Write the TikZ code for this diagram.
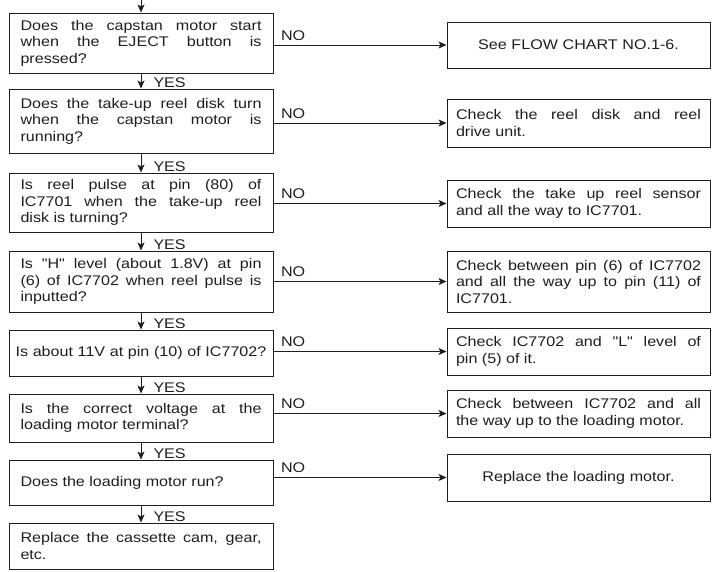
\documentclass[tikz,border=0pt]{standalone}
\usepackage{fontspec}
\setmainfont{Liberation Sans}[FakeStretch=1.15,Ligatures=TeXOff]
\usetikzlibrary{arrows.meta}
\definecolor{ink}{HTML}{1E1E1E}
\tikzset{
  box/.style={draw=ink,line width=1pt,inner ysep=3pt,font=\fontsize{14}{16.5}\selectfont,text=ink},
  qbox/.style={box,text width=241pt,inner xsep=11.5pt,align=justify},
  qboxc/.style={box,text width=252pt,inner xsep=6pt,align=center},
  abox/.style={box,text width=245pt,inner xsep=9pt,align=justify},
  aboxc/.style={abox,align=center},
  lab/.style={font=\fontsize{14}{16.5}\selectfont,text=ink,inner sep=0pt},
  ar/.style={-{Stealth[length=8pt,width=7pt,inset=2pt]},draw=ink,line width=1pt},
}
\begin{document}
\begin{tikzpicture}[x=1pt,y=-1pt]
  \useasboundingbox (0,0) rectangle (719,571);
  \coordinate (top) at (141,0);
  % questions
  \node[qbox,minimum height=60pt] (q1) at (141,43) {Does the capstan motor start\linebreak when the EJECT button is\linebreak pressed?};
  \node[qbox,minimum height=64pt] (q2) at (141,121) {Does the take-up reel disk turn\linebreak when the capstan motor is\linebreak running?};
  \node[qbox,minimum height=59pt] (q3) at (141,202.5) {Is reel pulse at pin (80) of\linebreak IC7701 when the take-up reel\linebreak disk is turning?};
  \node[qbox,minimum height=61pt] (q4) at (141,281.5) {Is "H" level (about 1.8V) at pin\linebreak (6) of IC7702 when reel pulse is\linebreak inputted?};
  \node[qboxc,minimum height=46pt] (q5) at (141,353) {Is about 11V at pin (10) of IC7702?};
  \node[qbox,minimum height=48pt] (q6) at (141,418) {Is the correct voltage at the\linebreak loading motor terminal?};
  \node[qbox,minimum height=45pt] (q7) at (141,482.5) {Does the loading motor run?};
  \node[qbox,minimum height=46pt] (q8) at (141,546) {Replace the cassette cam, gear,\linebreak etc.};
  % checks
  \node[aboxc,minimum height=46pt] (r1) at (578.5,45) {See FLOW CHART NO.1-6.};
  \node[abox,minimum height=48pt] (r2) at (578.5,123) {Check the reel disk and reel\linebreak drive unit.};
  \node[abox,minimum height=47pt] (r3) at (578.5,203.5) {Check the take up reel sensor\linebreak and all the way to IC7701.};
  \node[abox,minimum height=61pt] (r4) at (578.5,281.5) {Check between pin (6) of IC7702\linebreak and all the way up to pin (11) of\linebreak IC7701.};
  \node[abox,minimum height=47pt] (r5) at (578.5,351.5) {Check IC7702 and "L" level of\linebreak pin (5) of it.};
  \node[abox,minimum height=47pt] (r6) at (578.5,413.5) {Check between IC7702 and all\linebreak the way up to the loading motor.};
  \node[aboxc,minimum height=47pt] (r7) at (578.5,477.5) {Replace the loading motor.};
  % flow
  \draw[ar] (top) -- (q1.north);
  \foreach \a/\b in {1/2,2/3,3/4,4/5,5/6,6/7,7/8}
    \draw[ar] (q\a.south) -- (q\b.north) node[lab,pos=1,anchor=base west,xshift=12pt,yshift=1pt] (yes\a) {YES};
  \foreach \i in {1,...,7}
    \draw[ar] (r\i.west -| q\i.east) -- (r\i.west) node[lab,pos=0,anchor=base west,xshift=7pt,yshift=5pt] (no\i) {NO};
\end{tikzpicture}
\end{document}
